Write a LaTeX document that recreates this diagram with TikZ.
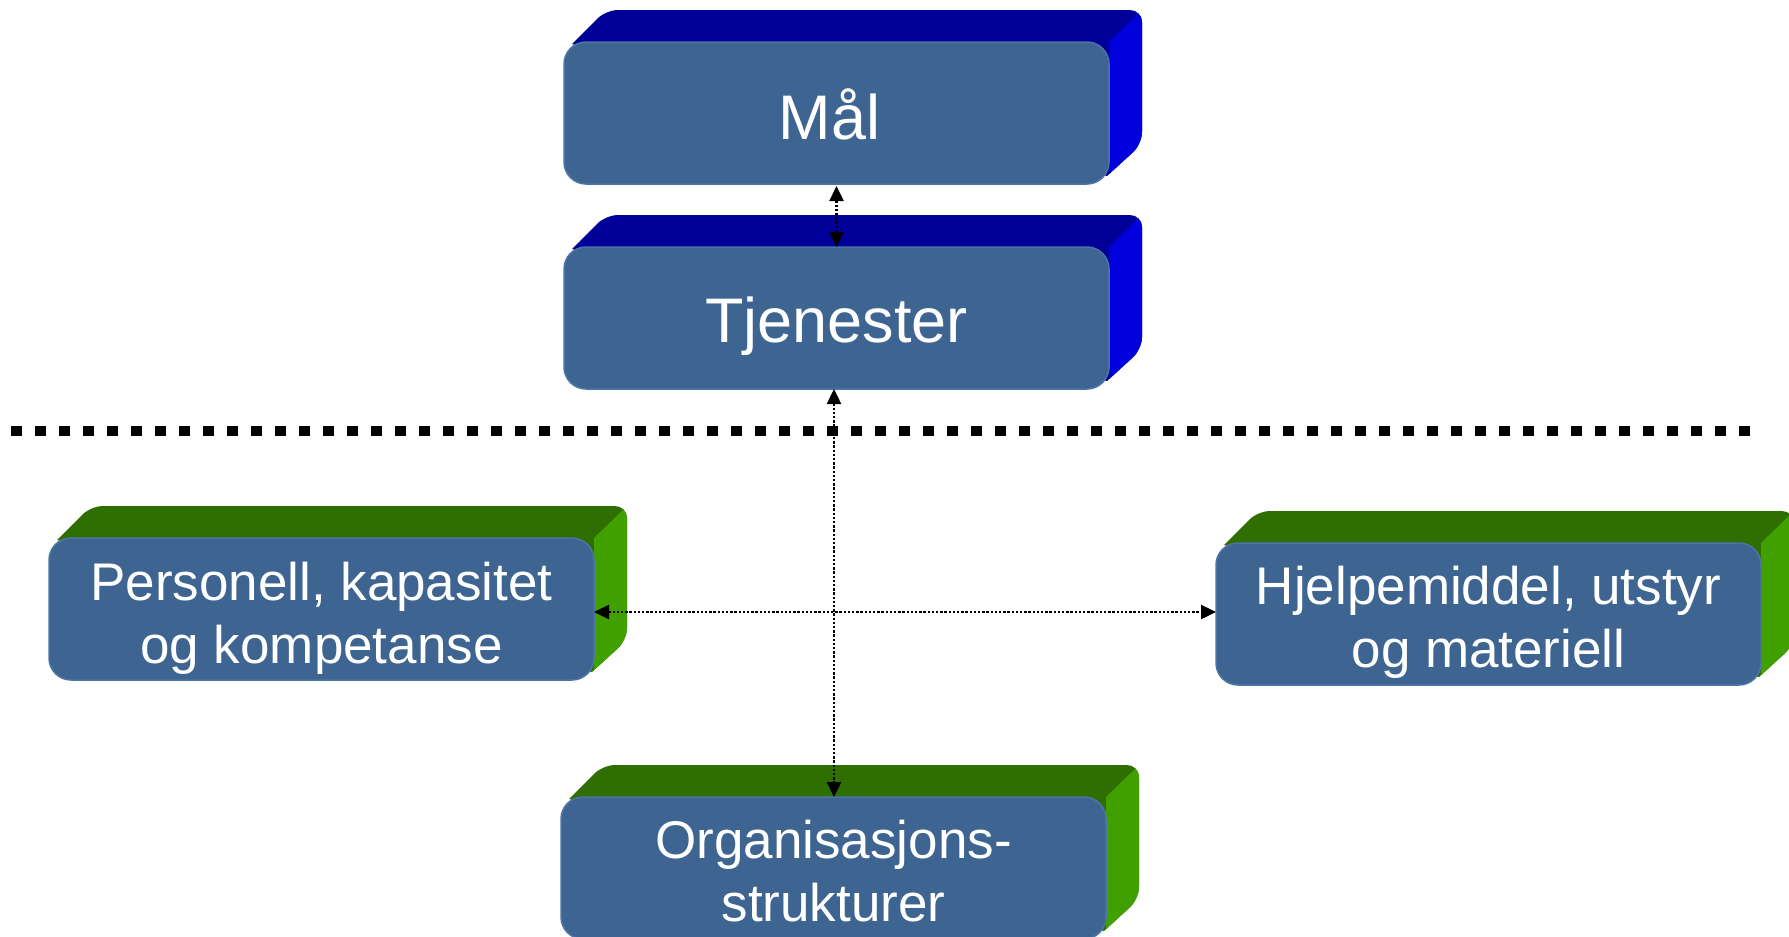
\documentclass[tikz,border=0pt]{standalone}
\usepackage{fontspec}
\setmainfont{Liberation Sans}
\usetikzlibrary{arrows.meta,calc,backgrounds}
\definecolor{frontc}{HTML}{3E6591}
\definecolor{frontb}{HTML}{4D74A6}
\definecolor{bluetop}{HTML}{000099}
\definecolor{blueside}{HTML}{0000DD}
\definecolor{greentop}{HTML}{2F6E00}
\definecolor{greenside}{HTML}{40A000}
\tikzset{
  front/.style={rectangle, rounded corners=22pt, fill=frontc, draw=frontb, line width=1.5pt,
    minimum width=545pt, minimum height=142pt, inner sep=0pt, outer sep=0pt,
    anchor=north west},
  txt/.style={align=center, text=white, inner sep=0pt},
  bigtxt/.style={txt, font=\fontsize{63}{70}\selectfont},
  smalltxt/.style={txt, font=\fontsize{53}{63}\selectfont},
  conn/.style={line width=2.4pt, dash pattern=on 2.4pt off 1.8pt, {Triangle[length=15pt,width=14pt]}-{Triangle[length=15pt,width=14pt]}},
  sepline/.style={line width=10pt, dash pattern=on 11pt off 13pt}
}
\newcommand\silpath[1]{(#1.center) -- ($(#1.north west)+(8,2)$)
      [rounded corners=12pt] -- ($(#1.north west)+(42,-32)$) -- ($(#1.north east)+(33,-32)$)
      -- ($(#1.south east)+(33,-40)$) [sharp corners] -- ($(#1.south east)+(-2,-8)$) -- cycle}
\newcommand\prism[3]{%
  \begin{scope}[on background layer]
    \fill[#2] \silpath{#1};
    \begin{scope}
      \clip \silpath{#1};
      \fill[#3] (#1.north east) -- ($(#1.north east)+(66,-64)$) -- ($(#1.south east)+(66,-64)$) -- (#1.south east) -- cycle;
    \end{scope}
  \end{scope}}
\begin{document}
\begin{tikzpicture}[x=1pt,y=-1pt]
\useasboundingbox (0,0) rectangle (1789,937);
\node[front] (mal) at (564,42) {};
\node[front] (tj) at (564,247) {};
\node[front] (pers) at (49,538) {};
\node[front] (hj) at (1216,543) {};
\node[front] (org) at (561,797) {};
\node[bigtxt] (maltxt) at ([yshift=-1pt,xshift=-7pt]mal.center) {Mål};
\node[bigtxt] (tjtxt) at ([yshift=-8pt]tj.center) {Tjenester};
\node[smalltxt] (perstxt) at ([yshift=-9pt]pers.center) {Personell, kapasitet\\og kompetanse};
\node[smalltxt] (hjtxt) at ([yshift=-8pt]hj.center) {Hjelpemiddel, utstyr\\og materiell};
\node[smalltxt] (orgtxt) at ([yshift=-3pt]org.center) {Organisasjons-\\strukturer};
\prism{mal}{bluetop}{blueside}
\prism{tj}{bluetop}{blueside}
\prism{pers}{greentop}{greenside}
\prism{hj}{greentop}{greenside}
\prism{org}{greentop}{greenside}
\coordinate (sepL) at (11,431);
\coordinate (sepR) at (1751,431);
\draw[sepline] (sepL) -- (sepR);
\coordinate (hy) at (0,612);
\coordinate (vx) at (834,0);
\draw[conn] ([yshift=-2pt]mal.south) -- (tj.north);
\draw[conn] (tj.south -| vx) -- (org.north -| vx);
\draw[conn] (pers.east |- hy) -- (hj.west |- hy);
\end{tikzpicture}
\end{document}
